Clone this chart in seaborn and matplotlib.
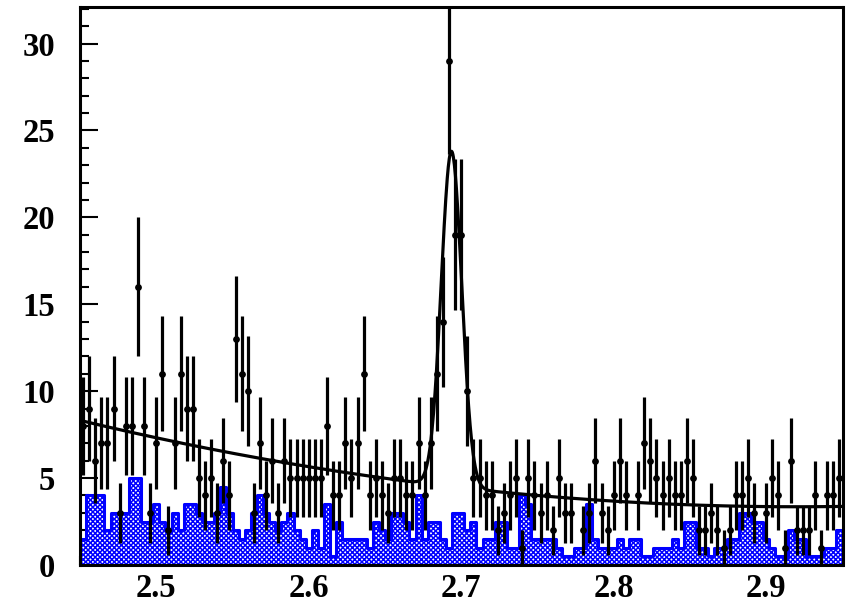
import numpy as np
import pandas as pd
import matplotlib
matplotlib.use("Agg")
import matplotlib.pyplot as plt
import seaborn as sns
from matplotlib.ticker import MultipleLocator

# ---------------- data ----------------
x_min, x_max = 2.45, 2.95
bin_width = 0.004

counts = [8, 9, 6, 7, 7, 9, 3, 8, 8, 16, 8, 3, 7, 11, 2, 7, 11, 9, 9, 5,
          4, 5, 3, 6, 4, 13, 11, 10, 3, 7, 4, 6,
          3, 6, 5, 5, 5, 5, 5, 5, 8, 4, 4, 7, 5, 7, 11, 4, 5, 4, 3, 5, 5, 4, 4, 7, 4,
          7, 11, 14, 29, 19, 19, 10,
          5, 5, 4, 4, 2, 3, 4, 5, 1, 5, 4, 3, 4, 2, 5, 3, 3, 0, 2, 3, 6, 3, 2, 4, 6,
          4, 0, 4, 7, 6, 5,
          4, 5, 4, 4, 6, 5, 2, 2, 3, 2, 1, 2, 4, 4, 5, 3, 0, 3, 5, 4, 1, 6, 2, 2, 2,
          4, 1, 4, 4, 5]

background = [1.5, 4, 4, 4, 2, 3, 3, 3, 5, 5, 2.5, 2.5, 3.5, 2.5, 2, 3, 2, 3.5, 3.5, 3,
              2.5, 2.5, 3, 4.5, 3, 2, 1.5, 2, 3, 4, 3, 2.5,
              2, 2.5, 3, 2, 1.5, 1, 2, 1, 3.5, 0.5, 2.5, 1.5, 1.5, 1.5, 1.5, 1, 2.5, 2, 1.5, 3,
              3, 2.5, 1.5, 4, 1.5, 2.5, 2.5, 1.5, 1, 3, 3, 2,
              2.5, 1, 1.5, 1.5, 2.5, 2.5, 1, 1, 4, 3.5, 1.5, 1.5, 1.5, 1.5, 1, 0.5, 0.5, 1,
              1, 3.5, 1.5, 1, 1, 1, 1.5, 1, 1.5, 1.5, 0.5, 0.5, 1,
              1, 1, 1.5, 1, 2.5, 2.5, 1, 1, 0.5, 1, 1, 1.5, 1.5, 3, 3, 2.5, 2.5, 1.5, 1,
              0.5, 0.5, 2, 1.5, 1.5, 0.5, 0.5, 0.5, 1, 1, 2]

# fit: quadratic background + gaussian peak
bkg_const, bkg_quad, bkg_center = 3.35, 22.5, 2.92
peak_amp, peak_mean, peak_sigma = 19.3, 2.6936, 0.0067

x_ticks = [2.5, 2.6, 2.7, 2.8, 2.9]
x_tick_labels = ["2.5", "2.6", "2.7", "2.8", "2.9"]
y_ticks = [0, 5, 10, 15, 20, 25, 30]
y_max = 32.1

# ---------------- derived tables ----------------
edges = x_min + bin_width * np.arange(len(counts) + 1)
centers = edges[:-1] + bin_width / 2
df = pd.DataFrame({"x": centers, "n": counts, "bkg": background})
df["err"] = np.sqrt(df["n"])
pts = df[df["n"] > 0]

xf = np.linspace(x_min, x_max, 1500)
yf = (bkg_const + bkg_quad * (xf - bkg_center) ** 2
      + peak_amp * np.exp(-0.5 * ((xf - peak_mean) / peak_sigma) ** 2))
fit_df = pd.DataFrame({"x": xf, "y": yf})

# ---------------- style ----------------
sns.set_theme(style="ticks")
plt.rcParams["font.family"] = ["Liberation Serif", "DejaVu Serif"]
plt.rcParams["font.weight"] = "bold"
plt.rcParams["hatch.linewidth"] = 1.1
plt.rcParams["hatch.color"] = "blue"

fig = plt.figure(figsize=(8.5, 6.03), dpi=100)
ax = fig.add_axes([80 / 850, 38 / 603, 762.5 / 850, 558 / 603])

# background histogram (blue hatched)
sns.histplot(data=df, x="x", weights="bkg", bins=edges.tolist(), element="step",
             fill=True, ax=ax, color="blue", alpha=1.0, linewidth=2.2,
             legend=False)
for coll in ax.collections:
    coll.set_facecolor("white")
    coll.set_edgecolor("blue")
    coll.set_hatch("xxxxxxx")
    coll.set_linewidth(2.2)

# data points with error bars
ax.errorbar(pts["x"], pts["n"], yerr=pts["err"], fmt="none", ecolor="black",
            elinewidth=2.3, capsize=0, zorder=4)
sns.scatterplot(data=pts, x="x", y="n", ax=ax, color="black", s=24,
                edgecolor="black", linewidth=0, zorder=5, legend=False)

# fit curve
sns.lineplot(data=fit_df, x="x", y="y", ax=ax, color="black", linewidth=2.3,
             zorder=6, legend=False)

ax.set_xlim(x_min, x_max)
ax.set_ylim(0, y_max)
ax.set_xlabel("")
ax.set_ylabel("")
ax.set_xticks(x_ticks)
ax.set_xticklabels(x_tick_labels)
ax.set_yticks(y_ticks)
ax.xaxis.set_minor_locator(MultipleLocator(0.05))
ax.yaxis.set_minor_locator(MultipleLocator(1))
ax.tick_params(axis="both", which="both", direction="in", top=False, right=False,
               colors="black", width=1.5)
ax.tick_params(axis="both", which="major", length=13, labelsize=23.5)
ax.tick_params(axis="both", which="minor", length=6.5)
ax.tick_params(axis="y", which="major", pad=18)
ax.tick_params(axis="x", which="major", pad=6)
for lab in ax.get_xticklabels() + ax.get_yticklabels():
    lab.set_fontweight("bold")
for sp in ax.spines.values():
    sp.set_visible(True)
    sp.set_linewidth(2.2)
    sp.set_color("black")
    sp.set_zorder(10)

fig.savefig("out.png", dpi=100, facecolor="white")
